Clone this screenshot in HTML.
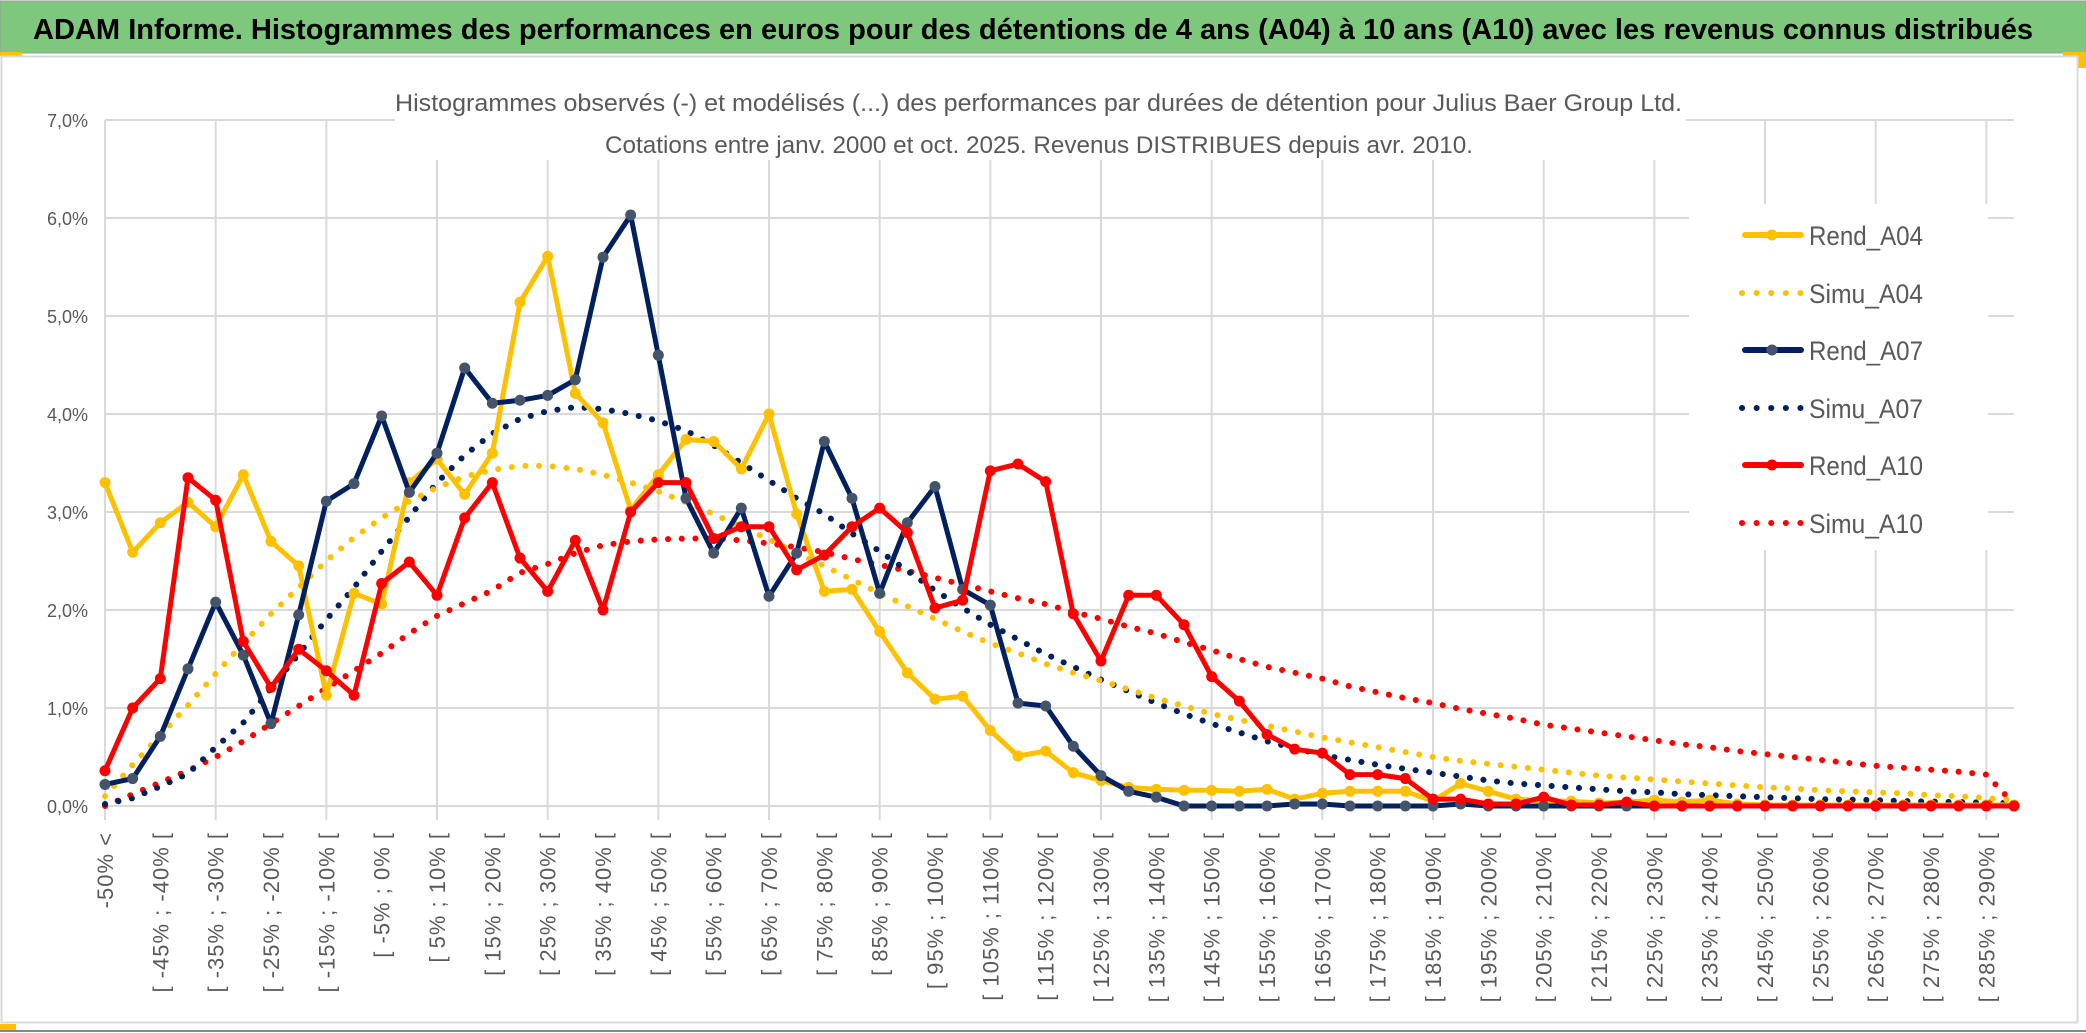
<!DOCTYPE html>
<html><head><meta charset="utf-8">
<style>
html,body{margin:0;padding:0;background:#fff;}
svg{display:block;}
text{font-family:"Liberation Sans",sans-serif;}
</style></head>
<body>
<svg id="chart" width="2086" height="1033" viewBox="0 0 2086 1033" xmlns="http://www.w3.org/2000/svg">
  <rect x="0" y="0" width="2086" height="1033" fill="#fff"/>
  <rect x="0" y="1" width="2086" height="52" fill="#7ec87e" stroke="#9a9a9a" stroke-width="1"/>
  <text x="33" y="39" font-size="29" font-weight="bold" fill="#000" textLength="2000" lengthAdjust="spacingAndGlyphs">ADAM Informe. Histogrammes des performances en euros pour des détentions de 4 ans (A04) à 10 ans (A10) avec les revenus connus distribués</text>
  <rect x="0" y="52" width="22" height="4" fill="#ffc000"/>
  <rect x="2063" y="52" width="23" height="16" fill="#ffc000"/>
  <rect x="1.5" y="56.5" width="2076" height="966" fill="#fff" stroke="#d9d9d9" stroke-width="2"/>
  <rect x="0" y="1024" width="16" height="6" fill="#ffc000"/>
  <line x1="0" y1="1031" x2="2086" y2="1031" stroke="#888" stroke-width="2"/>
  <g id="grid"></g>
  <g id="yticks"></g>
  <g id="xticks"></g>
  <rect x="395" y="84" width="1291" height="76" fill="#fff"/>
  <text x="395" y="111" font-size="24" fill="#595959" textLength="1287" lengthAdjust="spacingAndGlyphs">Histogrammes observés (-) et modélisés (...) des performances par durées de détention pour Julius Baer Group Ltd.</text>
  <text x="605" y="153" font-size="24" fill="#595959" textLength="868" lengthAdjust="spacingAndGlyphs">Cotations entre janv. 2000 et oct. 2025. Revenus DISTRIBUES depuis avr. 2010.</text>
  <g id="series"></g>
  <rect x="1689" y="204" width="299" height="346" fill="#fff"/>
  <g id="legend"></g>
</svg>
<script>
const categories = (function(){ const a=["-50% <"]; for(let v=-50; v<295; v+=5){ a.push("[ "+v+"% ; "+(v+5)+"% ["); } return a; })();
const yTicks = [0,1,2,3,4,5,6,7];
const yTickLabels = ["0,0%","1,0%","2,0%","3,0%","4,0%","5,0%","6,0%","7,0%"];
const rendA04 = [3.30,2.59,2.89,3.10,2.85,3.38,2.70,2.45,1.13,2.17,2.06,3.30,3.54,3.18,3.60,5.14,5.61,4.21,3.91,3.02,3.38,3.74,3.72,3.44,4.00,2.98,2.19,2.21,1.78,1.36,1.09,1.12,0.77,0.51,0.56,0.34,0.26,0.19,0.17,0.16,0.16,0.15,0.17,0.07,0.13,0.15,0.15,0.15,0.05,0.23,0.15,0.07,0.05,0.05,0.03,0.04,0.06,0.04,0.06,0.02,0.01,0.01,0.01,0.01,0.01,0.01,0.01,0.01,0.01,0.01];
const simuA04 = [0.10,0.42,0.72,1.03,1.35,1.66,1.96,2.23,2.50,2.74,2.94,3.11,3.25,3.36,3.43,3.47,3.47,3.44,3.38,3.30,3.21,3.10,2.98,2.85,2.72,2.58,2.45,2.31,2.17,2.04,1.91,1.78,1.66,1.56,1.45,1.36,1.28,1.19,1.10,1.02,0.94,0.88,0.82,0.76,0.70,0.65,0.60,0.55,0.50,0.46,0.43,0.40,0.37,0.34,0.31,0.29,0.27,0.25,0.23,0.21,0.19,0.18,0.16,0.15,0.14,0.13,0.11,0.10,0.08,0.06];
const rendA07 = [0.22,0.28,0.71,1.40,2.08,1.54,0.84,1.95,3.11,3.29,3.98,3.20,3.60,4.47,4.11,4.14,4.19,4.35,5.60,6.03,4.60,3.14,2.58,3.04,2.14,2.58,3.72,3.14,2.17,2.89,3.26,2.21,2.05,1.05,1.02,0.61,0.31,0.15,0.09,0,0,0,0,0.02,0.02,0,0,0,0,0.02,0,0,0,0,0,0,0,0,0,0,0,0,0,0,0,0,0,0,0,0];
const simuA07 = [0.02,0.08,0.20,0.33,0.60,0.85,1.20,1.55,1.90,2.23,2.60,2.95,3.30,3.58,3.80,3.95,4.03,4.07,4.05,4.00,3.93,3.83,3.68,3.50,3.32,3.14,2.98,2.78,2.60,2.40,2.20,2.02,1.85,1.70,1.55,1.42,1.29,1.17,1.05,0.94,0.84,0.75,0.66,0.59,0.52,0.47,0.42,0.38,0.34,0.30,0.26,0.23,0.21,0.19,0.17,0.15,0.14,0.12,0.11,0.10,0.09,0.08,0.07,0.065,0.06,0.05,0.045,0.04,0.035,0.03];
const rendA10 = [0.36,1.00,1.30,3.35,3.12,1.68,1.21,1.60,1.38,1.13,2.27,2.49,2.15,2.94,3.30,2.53,2.19,2.71,2.00,3.00,3.30,3.30,2.73,2.85,2.85,2.41,2.56,2.85,3.04,2.79,2.02,2.10,3.42,3.49,3.31,1.96,1.48,2.15,2.15,1.85,1.32,1.07,0.73,0.58,0.54,0.32,0.32,0.28,0.07,0.07,0.02,0.02,0.09,0.01,0.01,0.04,0,0,0,0,0,0,0,0,0,0,0,0,0,0];
const simuA10 = [0.00,0.12,0.24,0.36,0.50,0.66,0.84,1.02,1.20,1.38,1.56,1.76,1.94,2.07,2.20,2.38,2.47,2.58,2.66,2.70,2.72,2.73,2.73,2.71,2.68,2.64,2.59,2.52,2.46,2.40,2.33,2.26,2.19,2.12,2.06,1.98,1.91,1.83,1.76,1.67,1.59,1.50,1.42,1.36,1.30,1.22,1.16,1.10,1.05,0.99,0.94,0.89,0.83,0.79,0.75,0.71,0.67,0.63,0.60,0.56,0.53,0.50,0.47,0.44,0.41,0.39,0.37,0.35,0.32,0.02];
const seriesNames = ["Rend_A04","Simu_A04","Rend_A07","Simu_A07","Rend_A10","Simu_A10"];

const NS="http://www.w3.org/2000/svg";
const X0=105, X1=2014, Y0=806, YPER=98.0;
function xScale(i){ return X0 + i*(X1-X0)/(categories.length-1); }
function yScale(v){ return Y0 - v*YPER; }
function mk(tag, attrs, parent){ const e=document.createElementNS(NS,tag); for(const k in attrs) e.setAttribute(k,attrs[k]); parent.appendChild(e); return e; }

const grid=document.getElementById('grid');
yTicks.forEach(function(t){
  const l=mk('line',{x1:X0,x2:X1,y1:yScale(t),y2:yScale(t),stroke:'#d9d9d9','stroke-width':2},grid);
  
  
});
for(let i=0;i<categories.length;i+=4){
  const l=mk('line',{x1:xScale(i),x2:xScale(i),y1:yScale(7),y2:Y0+14,stroke:'#d9d9d9','stroke-width':2},grid);
  
  
}
const yt=document.getElementById('yticks');
yTicks.forEach(function(t,k){
  const e=mk('text',{x:88,y:yScale(t)+7,'text-anchor':'end','font-size':18,fill:'#595959'},yt);
  e.textContent=yTickLabels[k];
  
  
});
const xt=document.getElementById('xticks');
for(let i=0;i<categories.length;i+=2){
  const x=xScale(i)+8, y=832;
  const e=mk('text',{x:x,y:y,'text-anchor':'end','font-size':22,fill:'#595959',transform:'rotate(-90 '+x+' '+y+')','letter-spacing':'1'},xt);
  e.textContent=categories[i];
  
  
}

const sg=document.getElementById('series');
function pts(arr){ return arr.map(function(v,i){ return xScale(i).toFixed(1)+','+yScale(v).toFixed(1); }).join(' '); }
function dotted(arr,color,name){
  const p=mk('polyline',{points:pts(arr),fill:'none',stroke:color,'stroke-width':6,'stroke-linecap':'round','stroke-dasharray':'0.1 13.6'},sg);
  
  
}
function solid(arr,color,mcolor,name){
  const p=mk('polyline',{points:pts(arr),fill:'none',stroke:color,'stroke-width':5,'stroke-linejoin':'round'},sg);
  
  
  arr.forEach(function(v,i){
    const c=mk('circle',{cx:xScale(i),cy:yScale(v),r:5.5,fill:mcolor},sg);
    
    
  });
}
dotted(simuA10,'#ff0000','simu-a10-line');
dotted(simuA07,'#002060','simu-a07-line');
dotted(simuA04,'#ffc000','simu-a04-line');
solid(rendA04,'#ffc000','#ffc000','rend-a04-line');
solid(rendA07,'#002060','#44546a','rend-a07-line');
solid(rendA10,'#ff0000','#ff0000','rend-a10-line');

const lg=document.getElementById('legend');
const lgColors=['#ffc000','#ffc000','#002060','#002060','#ff0000','#ff0000'];
const lgRows=[235,293,350,408,465,523];
seriesNames.forEach(function(n,k){
  const y=lgRows[k], c=lgColors[k];
  const g=mk('g',{},lg);
  
  
  if(k%2===0){
    mk('line',{x1:1745,x2:1801,y1:y,y2:y,stroke:c,'stroke-width':6,'stroke-linecap':'round'},g);
    mk('circle',{cx:1772,cy:y,r:5.5,fill:k===2?'#44546a':c},g);
  } else {
    mk('line',{x1:1742,x2:1802,y1:y,y2:y,stroke:c,'stroke-width':6,'stroke-linecap':'round','stroke-dasharray':'0.1 14.5'},g);
  }
  const t=mk('text',{x:1809,y:y+10,'font-size':27,fill:'#595959',textLength:114,lengthAdjust:'spacingAndGlyphs'},g);
  t.textContent=n;
});
</script>
</body></html>
